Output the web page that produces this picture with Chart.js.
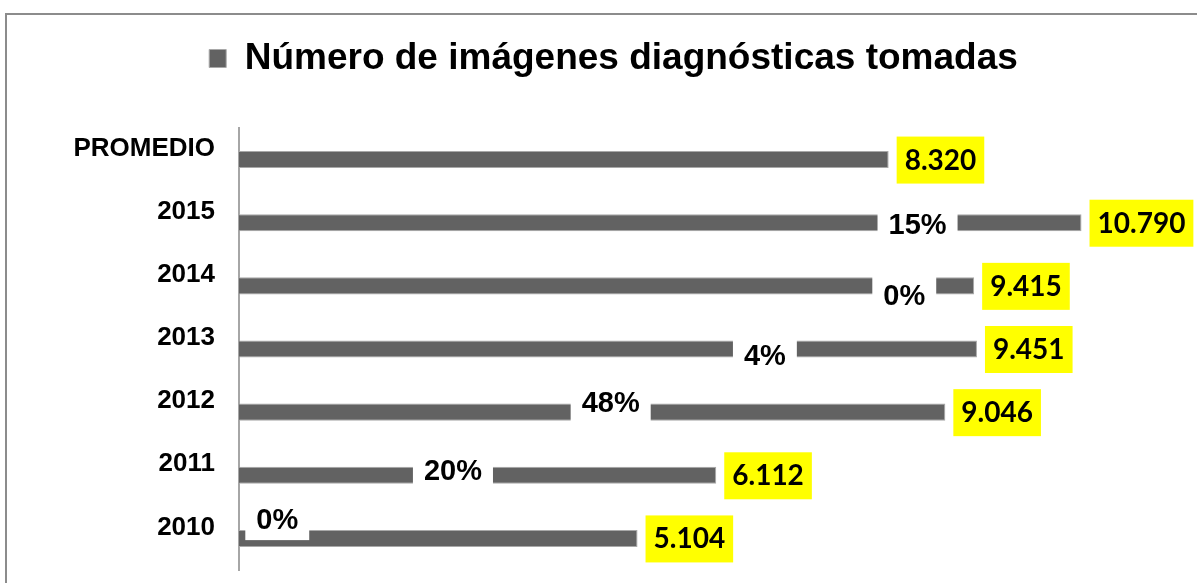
<!DOCTYPE html>
<html>
<head>
<meta charset="utf-8">
<script src="https://cdn.jsdelivr.net/npm/chart.js@4.4.1/dist/chart.umd.min.js"></script>
<style>
  html, body { margin: 0; padding: 0; background: #fff; }
  #wrap { position: relative; width: 1197px; height: 583px; }
</style>
</head>
<body>
<div id="wrap"><canvas id="chart"></canvas></div>
<script>
const categories = ["PROMEDIO", "2015", "2014", "2013", "2012", "2011", "2010"];
const imagenes = [8320, 10790, 9415, 9451, 9046, 6112, 5104];
// variacion frente al año anterior, y donde aparece la etiqueta
const pctLabels = ["", "15%", "0%", "4%", "48%", "20%", "0%"];
const pctAt = [null, 8690, 8520, 6735, 4760, 2740, 490];
const pctShift = [0, 0.04, 0.16, 0.11, -0.14, -0.06, -0.29];

const BAR = "#626262";

function miles(v) {
  return String(v).replace(/\B(?=(\d{3})+(?!\d))/g, ".");
}

// marco gris del grafico
const marco = {
  id: "marco",
  beforeDraw(chart) {
    const ctx = chart.ctx;
    ctx.save();
    ctx.fillStyle = "#fff";
    ctx.fillRect(0, 0, chart.width, chart.height);
    ctx.strokeStyle = "#8c8c8c";
    ctx.lineWidth = 2;
    ctx.beginPath();
    ctx.moveTo(6, chart.height + 2);
    ctx.lineTo(6, 14);
    ctx.lineTo(chart.width + 2, 14);
    ctx.stroke();
    ctx.restore();
  },
};

// etiquetas: valor en caja amarilla y porcentaje con fondo blanco
const etiquetas = {
  id: "etiquetas",
  afterDatasetsDraw(chart) {
    const ctx = chart.ctx;
    const x = chart.scales.x;
    const y = chart.scales.y;
    const meta = chart.getDatasetMeta(0);
    ctx.save();
    ctx.textBaseline = "middle";
    meta.data.forEach((bar, i) => {
      const txt = miles(imagenes[i]);
      ctx.font = "bold 28px Lato";
      const w = ctx.measureText(txt).width;
      const bx = bar.x + 8;
      ctx.fillStyle = "#ffff00";
      ctx.fillRect(bx, bar.y - 23, w + 16, 47);
      ctx.fillStyle = "#000";
      ctx.textAlign = "left";
      ctx.fillText(txt, bx + 8, bar.y + 1);

      if (pctLabels[i]) {
        const px = x.getPixelForValue(pctAt[i]);
        const py = y.getPixelForValue(i + pctShift[i]);
        ctx.font = 'bold 29px "Liberation Sans"';
        const pw = ctx.measureText(pctLabels[i]).width;
        ctx.fillStyle = "#fff";
        ctx.fillRect(px - pw / 2 - 11, py - 20, pw + 22, 40);
        ctx.fillStyle = "#000";
        ctx.textAlign = "center";
        ctx.fillText(pctLabels[i], px, py + 1);
      }
    });
    ctx.restore();
  },
};

new Chart(document.getElementById("chart"), {
  type: "bar",
  data: {
    labels: categories,
    datasets: [
      {
        label: "Número de imágenes diagnósticas tomadas",
        data: imagenes,
        backgroundColor: BAR,
        borderColor: "#a8a8a8",
        borderWidth: 1,
        barPercentage: 0.27,
        categoryPercentage: 1,
      },
    ],
  },
  options: {
    indexAxis: "y",
    responsive: true,
    maintainAspectRatio: false,
    animation: false,
    layout: {
      padding: { top: 30, left: 51, right: 21, bottom: 13 },
    },
    scales: {
      x: {
        position: "top",
        min: 0,
        max: 12000,
        grid: { display: false },
        border: { display: false },
        ticks: { display: false },
        afterFit: (s) => {
          s.height = 41;
        },
      },
      y: {
        grid: { display: false, drawTicks: false },
        border: { display: true, color: "#a6a6a6", width: 2 },
        ticks: {
          color: "#000",
          padding: 24,
          labelOffset: -11,
          font: { family: '"Liberation Sans", Arial', size: 26, weight: "bold" },
        },
        afterFit: (s) => {
          s.width = 188;
          s.paddingTop = 0;
          s.paddingBottom = 0;
        },
      },
    },
    plugins: {
      legend: {
        position: "top",
        labels: {
          color: "#000",
          boxWidth: 17,
          boxHeight: 18,
          padding: 10,
          font: { family: '"Liberation Sans", Arial', size: 37, weight: "bold" },
        },
      },
      tooltip: { enabled: false },
    },
  },
  plugins: [marco, etiquetas],
});
</script>
</body>
</html>
